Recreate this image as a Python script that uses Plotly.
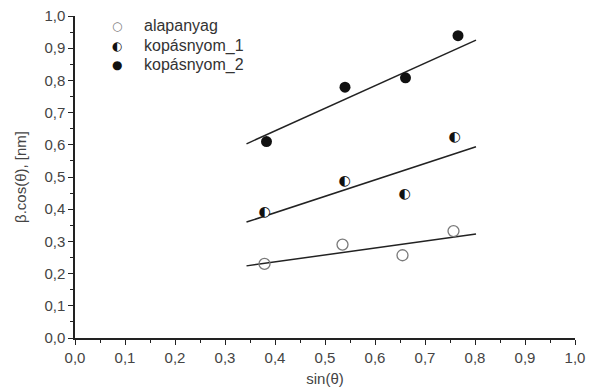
import plotly.graph_objects as go

# --- data ---
series_names = ["alapanyag", "kopásnyom_1", "kopásnyom_2"]
x_alap = [0.379, 0.535, 0.655, 0.757]
y_alap = [0.230, 0.290, 0.257, 0.332]
x_kop1 = [0.379, 0.539, 0.659, 0.759]
y_kop1 = [0.389, 0.485, 0.446, 0.623]
x_kop2 = [0.383, 0.540, 0.661, 0.766]
y_kop2 = [0.610, 0.779, 0.808, 0.939]

# fitted line end points
fit_x = [0.343, 0.802]
fit_alap = [0.224, 0.323]
fit_kop1 = [0.360, 0.594]
fit_kop2 = [0.603, 0.925]

x_ticks = [0.0, 0.1, 0.2, 0.3, 0.4, 0.5, 0.6, 0.7, 0.8, 0.9, 1.0]
y_ticks = [0.0, 0.1, 0.2, 0.3, 0.4, 0.5, 0.6, 0.7, 0.8, 0.9, 1.0]

x_title = "sin(θ)"
y_title = "β.cos(θ), [nm]"

line_col = "#222222"
fig = go.Figure()

for fy in [fit_alap, fit_kop1, fit_kop2]:
    fig.add_trace(go.Scatter(x=fit_x, y=fy, mode="lines",
                             line=dict(color=line_col, width=1.5),
                             showlegend=False, hoverinfo="skip"))

fig.add_trace(go.Scatter(x=x_alap, y=y_alap, mode="markers", name=series_names[0],
                         marker=dict(symbol="circle-open", size=11, color="#7a7a7a",
                                     line=dict(width=1.3, color="#7a7a7a")),
                         showlegend=False))
# half-filled circles: white disc + left-half-black glyph
fig.add_trace(go.Scatter(x=x_kop1, y=y_kop1, mode="markers",
                         marker=dict(symbol="circle", size=9, color="white",
                                     line=dict(width=0)),
                         showlegend=False, hoverinfo="skip"))
fig.add_trace(go.Scatter(x=x_kop1, y=y_kop1, mode="text", name=series_names[1],
                         text=["◐"] * len(x_kop1), textposition="middle center",
                         textfont=dict(family="DejaVu Sans", size=14, color="#111111"),
                         showlegend=False))
fig.add_trace(go.Scatter(x=x_kop2, y=y_kop2, mode="markers", name=series_names[2],
                         marker=dict(symbol="circle", size=11, color="#111111"),
                         showlegend=False))

# legend drawn as annotations
leg_sym = ["○", "◐", "●"]
leg_col = ["#7a7a7a", "#111111", "#111111"]
leg_y = [0.969, 0.906, 0.848]
for s, c, yy, nm in zip(leg_sym, leg_col, leg_y, series_names):
    fig.add_annotation(x=0.084, y=yy, xref="paper", yref="paper", text=s,
                       showarrow=False, xanchor="center", yanchor="middle",
                       font=dict(family="DejaVu Sans", size=12, color=c))
    fig.add_annotation(x=0.134, y=yy, xref="paper", yref="paper", text=nm,
                       showarrow=False, xanchor="left", yanchor="middle",
                       font=dict(family="Liberation Sans", size=16, color="#333333"))

axis_common = dict(
    range=[0, 1], showgrid=False, zeroline=False, showline=True, automargin=False,
    linecolor="#222222", linewidth=1.5, ticks="outside", ticklen=5,
    tickwidth=1.2, tickcolor="#222222", tickformat=".1f",
    tickfont=dict(family="Liberation Sans", size=15, color="#444444"),
    minor=dict(dtick=0.05, ticks="outside", ticklen=3, tickcolor="#222222", tickwidth=1),
    title_font=dict(family="Liberation Sans", size=15, color="#444444"),
)

fig.update_xaxes(**axis_common, tickvals=x_ticks, title_text=x_title, title_standoff=11)
fig.update_yaxes(**axis_common, tickvals=y_ticks, title_text=y_title, title_standoff=14)

fig.update_layout(
    width=590, height=387, separators=", ",
    margin=dict(l=75, r=15, t=16, b=49, autoexpand=False),
    paper_bgcolor="white", plot_bgcolor="white",
)

fig.write_html("out.html")
